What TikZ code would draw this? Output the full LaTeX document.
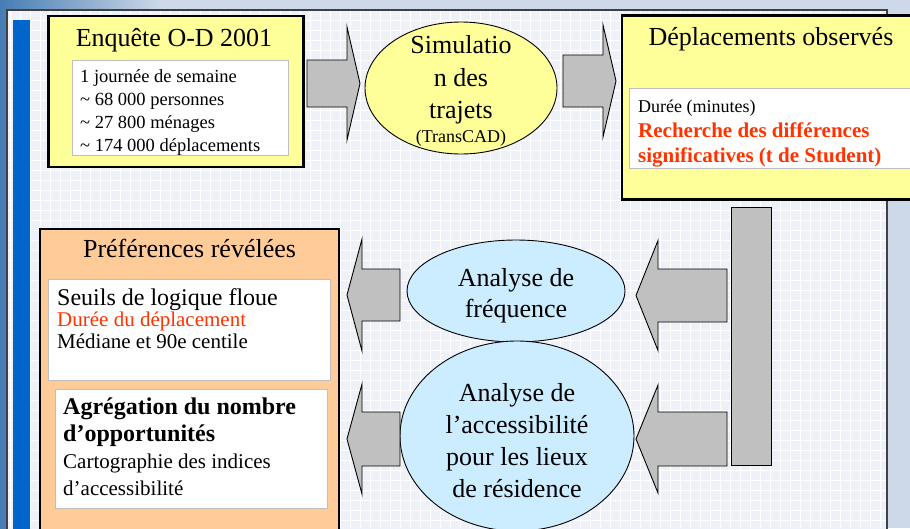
\documentclass[tikz,border=0pt]{standalone}
\usepackage{fontspec}
\setmainfont{Liberation Serif}
\usetikzlibrary{shapes.geometric,positioning}

\definecolor{slideblue}{RGB}{70,125,180}
\definecolor{slidelight}{RGB}{205,216,232}
\definecolor{panelfill}{RGB}{238,242,248}
\definecolor{barblue}{RGB}{0,102,204}
\definecolor{paleyellow}{RGB}{255,255,153}
\definecolor{paleorange}{RGB}{255,204,153}
\definecolor{paleblue}{RGB}{204,236,255}
\definecolor{arrowgray}{RGB}{192,192,192}
\definecolor{hired}{RGB}{255,51,0}

\tikzset{
    pics/fatarrow/.style args={#1/#2/#3/#4}{code={
        \draw[blockarrow] (0,-#3) -- (#1-#2,-#3) -- (#1-#2,-#4) -- (#1,0)
            -- (#1-#2,#4) -- (#1-#2,#3) -- (0,#3) -- cycle;
    }}
}

\begin{document}
\begin{tikzpicture}[
        x=1pt, y=-1pt,
        every node/.style={font=\fontsize{18.5}{22.7}\selectfont},
        frame/.style={draw=black, line width=2.4pt, inner sep=0pt},
        infobox/.style={draw=black!25, line width=1pt, fill=white, inner sep=0pt},
        heading/.style={font=\fontsize{26}{31}\selectfont, inner sep=0pt, anchor=base},
        body/.style={align=left, inner sep=0pt, anchor=base west},
        bubble/.style={ellipse, draw=black, line width=0.9pt, inner sep=0pt, align=center, font=\fontsize{26}{31}\selectfont},
        blockarrow/.style={draw=black, line width=0.9pt, fill=arrowgray, line join=miter},
        gridline/.style={draw=white, line width=0.7pt}
    ]

    \useasboundingbox (0,0) rectangle (910,528);

    % Slide background
    \fill[slidelight] (0,0) rectangle (910,528);
    \shade[left color=slideblue, right color=slidelight] (0,0) rectangle (160,528);
    \fill[panelfill] (7,10) rectangle (887,540);
    \draw[gridline, step=10pt] (7,528) grid (887,10);
    \draw[black!75, line width=1.6pt] (7,540) -- (7,10) -- (887,10) -- (887,540);
    \fill[barblue] (13,20) rectangle (30,540);

    % Enquete O-D
    \node[frame, fill=paleyellow, minimum width=255, minimum height=151] (enq) at (176,91.5) {};
    \node[heading] (enqtitle) at (174,46) {Enquête O-D 2001};
    \node[infobox, minimum width=216, minimum height=95] (enqinfo) at (180,107.5) {};
    \node[body] (enqtxt) at (80,151) {1 journée de semaine\\
        \textasciitilde\ 68 000 personnes\\
        \textasciitilde\ 27 800 ménages\\
        \textasciitilde\ 174 000 déplacements};

    % Simulation
    \node[bubble, fill=paleyellow, minimum width=192, minimum height=132, inner sep=-14pt, font=\fontsize{26}{32.5}\selectfont] (sim) at (461,88)
    {\rule{0pt}{24pt}Simulatio\\n des\\trajets\\[-9pt]{\fontsize{18}{22}\selectfont (TransCAD)}};

    % Deplacements observes
    \node[frame, fill=paleyellow, minimum width=290, minimum height=184] (dep) at (767,107.5) {};
    \node[heading] (deptitle) at (771,45) {Déplacements observés};
    \node[infobox, minimum width=283, minimum height=80] (depinfo) at (770.5,128) {};
    \node[body, font=\fontsize{21}{25}\selectfont] (deptxt) at (638,162)
    {{\fontsize{18}{25}\selectfont Durée (minutes)}\\
        \textcolor{hired}{\bfseries Recherche des différences}\\
        \textcolor{hired}{\bfseries significatives (t de Student)}};

    % Bar
    \node[blockarrow, minimum width=40, minimum height=258, inner sep=0pt] (bar) at (751,336) {};

    % Preferences revelees
    \node[frame, fill=paleorange, minimum width=299, minimum height=312] (pre) at (189.5,385) {};
    \node[heading] (pretitle) at (189.5,257) {Préférences révélées};
    \node[infobox, minimum width=282, minimum height=101] (seuils) at (189,329.5) {};
    \node[body, font=\fontsize{21}{21.5}\selectfont] (seuilstxt) at (57,348)
    {{\fontsize{24}{21.5}\selectfont Seuils de logique floue}\\
        \textcolor{hired}{Durée du déplacement}\\
        Médiane et 90e centile};
    \node[infobox, minimum width=272, minimum height=119] (agreg) at (191,448.5) {};
    \node[body, font=\fontsize{21}{26.7}\selectfont] (agregtxt) at (63,495)
    {{\fontsize{24}{26.7}\selectfont\bfseries Agrégation du nombre}\\
        {\fontsize{24}{26.7}\selectfont\bfseries d'opportunités}\\
        Cartographie des indices\\
        d'accessibilité};

    % Analyses
    \node[bubble, fill=paleblue, minimum width=218, minimum height=102] (freq) at (516,291)
    {\rule{0pt}{28pt}Analyse de\\fréquence};
    \node[bubble, fill=paleblue, minimum width=234, minimum height=190, font=\fontsize{26}{32}\selectfont] (acces) at (517,436)
    {\rule{0pt}{28pt}Analyse de\\l'accessibilité\\pour les lieux\\de résidence};

    % Block arrows
    \pic at (307,83.5) {fatarrow=53/13/23.5/56.5};
    \pic at (563,81) {fatarrow=53/13/26/56};
    \pic[rotate=180] at (727,295.5) {fatarrow=91/22/26.5/55};
    \pic[rotate=180] at (727,439) {fatarrow=91/22/27/54};
    \pic[rotate=180] at (400,295) {fatarrow=53/15/26/56};
    \pic[rotate=180] at (400,439) {fatarrow=53/15/27/55};

\end{tikzpicture}
\end{document}
